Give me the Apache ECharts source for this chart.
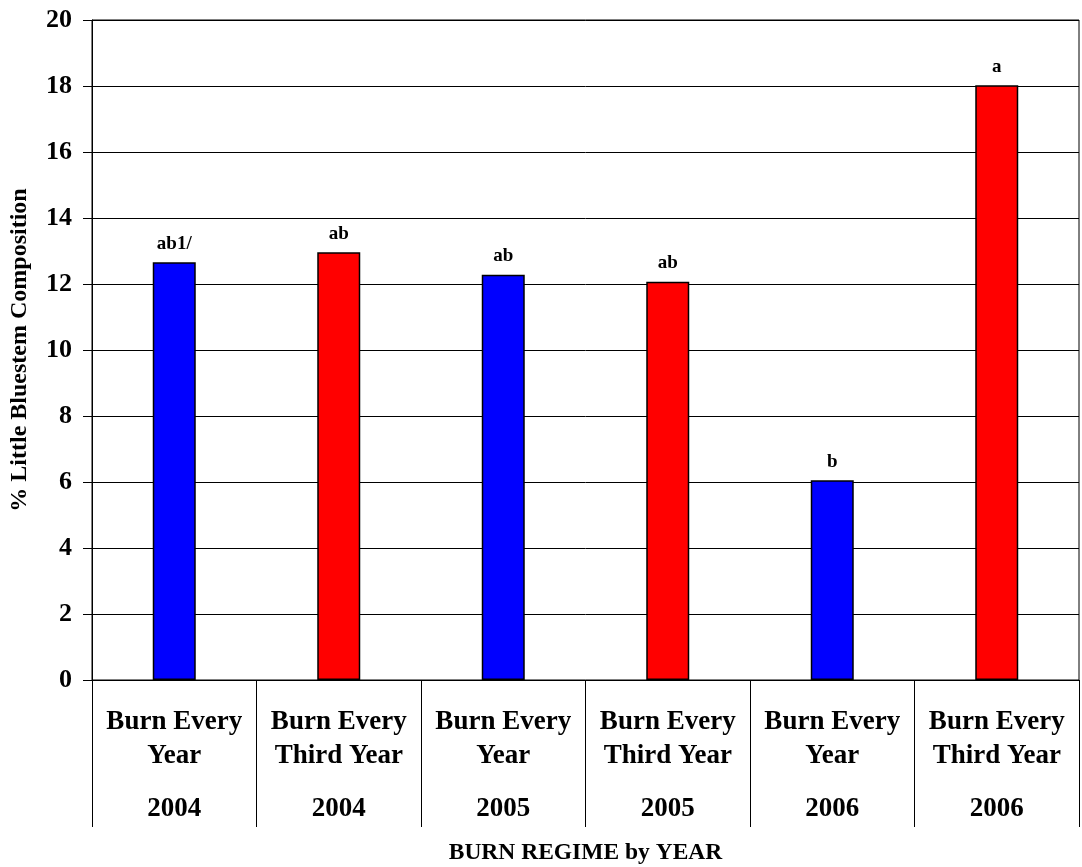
<!DOCTYPE html>
<html>
<head>
<meta charset="utf-8">
<script src="https://cdn.jsdelivr.net/npm/echarts@6/dist/echarts.min.js"></script>
<style>
html,body{margin:0;padding:0;background:#fff;}
#chart{width:1082px;height:867px;}
</style>
</head>
<body>
<div id="chart"></div>
<script>
const regimes = ['Burn Every Year', 'Burn Every Third Year', 'Burn Every Year', 'Burn Every Third Year', 'Burn Every Year', 'Burn Every Third Year'];
const regimeLine1 = ['Burn Every', 'Burn Every', 'Burn Every', 'Burn Every', 'Burn Every', 'Burn Every'];
const regimeLine2 = ['Year', 'Third Year', 'Year', 'Third Year', 'Year', 'Third Year'];
const years = ['2004', '2004', '2005', '2005', '2006', '2006'];
const values = [12.66, 12.96, 12.28, 12.07, 6.05, 18.02];
const letters = ['ab1/', 'ab', 'ab', 'ab', 'b', 'a'];
const yTicks = [0, 2, 4, 6, 8, 10, 12, 14, 16, 18, 20];

const categories = regimes.map((r, i) => r + ' ' + years[i]);
const FONT = "'Liberation Serif', 'Times New Roman', serif";

const chart = echarts.init(document.getElementById('chart'));
chart.setOption({
  animation: false,
  backgroundColor: '#fff',
  grid: { left: 92, right: 3, top: 20, bottom: 187, show: true, borderColor: '#000', borderWidth: 1, containLabel: false, outerBoundsMode: 'none' },
  xAxis: {
    type: 'category',
    data: categories,
    name: 'BURN REGIME by YEAR',
    nameLocation: 'middle',
    nameGap: 161,
    nameTextStyle: { fontFamily: FONT, fontWeight: 'bold', fontSize: 23.5, color: '#000' },
    axisLine: { show: true, lineStyle: { color: '#000', width: 1 } },
    axisTick: { show: true, alignWithLabel: false, interval: 0, length: 147, lineStyle: { color: '#000', width: 1 } },
    axisLabel: {
      interval: 0,
      margin: 25,
      color: '#000',
      formatter: function (v, i) {
        return '{a|' + regimeLine1[i] + '}\n{a|' + regimeLine2[i] + '}\n{y|' + years[i] + '}';
      },
      rich: {
        a: { fontFamily: FONT, fontWeight: 'bold', fontSize: 27, lineHeight: 34, color: '#000' },
        y: { fontFamily: FONT, fontWeight: 'bold', fontSize: 27, lineHeight: 73, color: '#000' }
      }
    }
  },
  yAxis: {
    type: 'value',
    min: 0,
    max: 20,
    interval: 2,
    name: '% Little Bluestem Composition',
    nameLocation: 'middle',
    nameGap: 60,
    nameTextStyle: { fontFamily: FONT, fontWeight: 'bold', fontSize: 24, color: '#000' },
    axisLine: { show: true, lineStyle: { color: '#000', width: 1 } },
    axisTick: { show: true, inside: false, length: 9, lineStyle: { color: '#000', width: 1 } },
    splitLine: { show: true, lineStyle: { color: '#000', width: 1 } },
    axisLabel: {
      margin: 20,
      color: '#000',
      fontFamily: FONT,
      fontWeight: 'bold',
      fontSize: 26,
      formatter: function (v) { return yTicks.indexOf(v) >= 0 ? String(v) : ''; }
    }
  },
  series: [{
    type: 'bar',
    data: values,
    barWidth: 43,
    itemStyle: {
      color: function (p) { return p.dataIndex % 2 === 0 ? '#0000FF' : '#FF0000'; },
      borderColor: '#000',
      borderWidth: 1.5
    },
    label: {
      show: true,
      position: 'top',
      distance: 9,
      color: '#000',
      fontFamily: FONT,
      fontWeight: 'bold',
      fontSize: 19,
      formatter: function (p) { return letters[p.dataIndex]; }
    }
  }]
});
</script>
</body>
</html>
